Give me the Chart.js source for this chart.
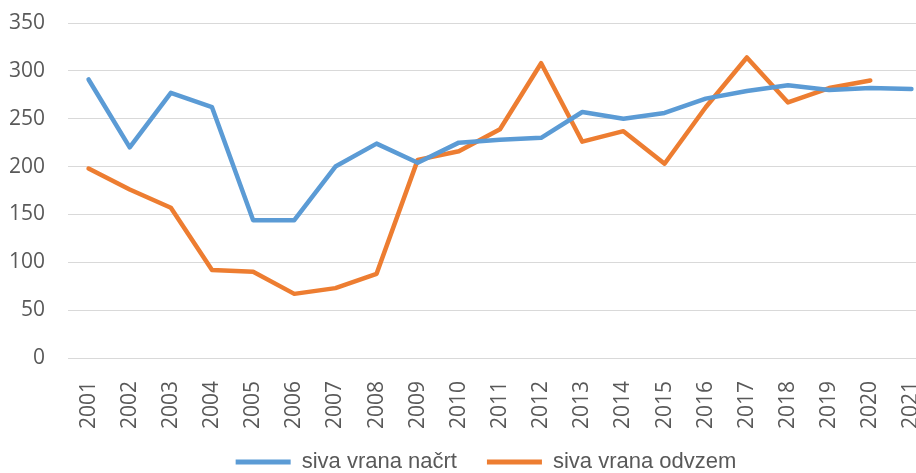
<!DOCTYPE html>
<html>
<head>
<meta charset="utf-8">
<script src="https://cdn.jsdelivr.net/npm/chart.js@4"></script>
<style>
  html, body { margin: 0; padding: 0; overflow: hidden; background: #fff; }
  #wrap { width: 932px; height: 473px; }
</style>
</head>
<body>
<div id="wrap"><canvas id="lineChart"></canvas></div>
<script>
const years = ["2001", "2002", "2003", "2004", "2005", "2006", "2007", "2008", "2009", "2010",
               "2011", "2012", "2013", "2014", "2015", "2016", "2017", "2018", "2019", "2020", "2021"];
const nacrt = [291, 220, 277, 262, 144, 144, 200, 224, 204, 225,
               228, 230, 257, 250, 256, 271, 279, 285, 280, 282, 281];
const odvzem = [198, 176, 157, 92, 90, 67, 73, 88, 207, 216,
                239, 308, 226, 237, 203, 262, 314, 267, 282, 290, null];
const yTicks = [0, 50, 100, 150, 200, 250, 300, 350];

const grey = "#595959";

// nudge the legend to where it sits in the original, and let the
// rotated year labels run past the (short) x scale box without clipping
const layoutTweaks = {
  id: "layoutTweaks",
  afterLayout(chart) {
    const lg = chart.legend;
    lg.top += 10; lg.bottom += 10;
    lg.left += 20; lg.right += 20;
    chart.scales.x.bottom = chart.height;
  },
};

new Chart(document.getElementById("lineChart"), {
  type: "line",
  data: {
    labels: years,
    datasets: [
      {
        label: "siva vrana načrt",
        data: nacrt,
        borderColor: "#5B9BD5",
        backgroundColor: "#5B9BD5",
        borderWidth: 4.5,
        pointRadius: 0,
        borderCapStyle: "round",
        borderJoinStyle: "round",
      },
      {
        label: "siva vrana odvzem",
        data: odvzem,
        borderColor: "#ED7D31",
        backgroundColor: "#ED7D31",
        borderWidth: 4.5,
        pointRadius: 0,
        borderCapStyle: "round",
        borderJoinStyle: "round",
      },
    ],
  },
  plugins: [layoutTweaks],
  options: {
    responsive: true,
    maintainAspectRatio: false,
    animation: false,
    layout: { padding: { top: 23, left: 0, right: 0, bottom: 0 } },
    plugins: {
      tooltip: { enabled: false },
      legend: {
        position: "bottom",
        labels: {
          color: grey,
          font: { family: "'Liberation Sans', sans-serif", size: 22 },
          boxWidth: 55,
          boxHeight: 5,
          padding: 30,
          generateLabels: (chart) => {
            const items = Chart.defaults.plugins.legend.labels.generateLabels(chart);
            items.forEach(it => { it.lineWidth = 0; });
            return items;
          },
        },
      },
    },
    scales: {
      x: {
        offset: true,
        grid: { display: false },
        border: { display: false },
        ticks: {
          color: grey,
          font: { family: "'Open Sans', sans-serif", size: 21 },
          minRotation: 90,
          maxRotation: 90,
          autoSkip: false,
          padding: 15,
        },
        afterFit: (scale) => {
          scale.height = 53;
          scale.paddingLeft = 0;
          scale.paddingRight = 0;
        },
      },
      y: {
        min: 0,
        max: 350,
        grid: { color: "#D9D9D9", lineWidth: 1, drawTicks: false },
        border: { display: false },
        ticks: {
          color: grey,
          font: { family: "'Open Sans', sans-serif", size: 21 },
          padding: 23,
        },
        afterBuildTicks: (scale) => { scale.ticks = yTicks.map(v => ({ value: v })); },
        afterFit: (scale) => {
          scale.width = 68;
          scale.paddingTop = 0;
          scale.paddingBottom = 0;
        },
      },
    },
  },
});
</script>
</body>
</html>
